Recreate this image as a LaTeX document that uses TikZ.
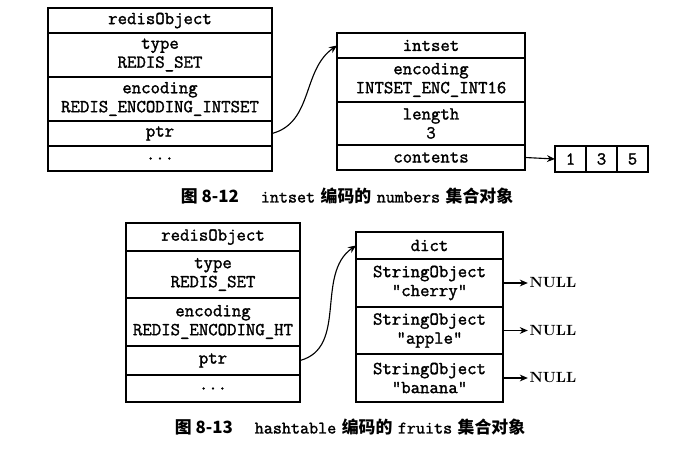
\documentclass[tikz,border=0pt]{standalone}
\usepackage{fontspec}
\setmonofont{Latin Modern Mono}[AutoFakeBold=1.6]
\newfontfamily\cjk{Noto Sans CJK SC}
\usetikzlibrary{arrows.meta,positioning}
\newcommand{\px}{0.025cm}
\newcommand{\captt}[1]{{\fontsize{12.5}{14}\selectfont\ttfamily\bfseries #1}}
\tikzstyle{field}=[draw, line width=0.9pt, outer sep=0pt, inner sep=1pt, align=center, anchor=north west, font=\fontsize{13}{13.5}\selectfont\ttfamily\bfseries]
\tikzstyle{nullnode}=[inner sep=1pt, font=\fontsize{10.5}{12}\selectfont\bfseries]
\tikzstyle{pointer}=[line width=0.8pt, -{Stealth[length=2mm,width=1.7mm]}]
\tikzstyle{caption}=[font=\fontsize{12}{14}\selectfont]

\begin{document}
\begin{tikzpicture}[x=\px, y=-\px]
    \useasboundingbox (0,0) rectangle (684,451);

    % Figure 8-12
    \node[field, minimum width=224*\px, minimum height=25*\px] (a1) at (48,8) {redisObject};
    \node[field, minimum width=224*\px, minimum height=44*\px, below=0pt of a1] (a2) {type\\REDIS\_SET};
    \node[field, minimum width=224*\px, minimum height=44*\px, below=0pt of a2] (a3) {encoding\\REDIS\_ENCODING\_INTSET};
    \node[field, minimum width=224*\px, minimum height=25*\px, below=0pt of a3] (a4) {ptr};
    \node[field, minimum width=224*\px, minimum height=25*\px, below=0pt of a4] (a5) {...};

    \node[field, minimum width=188*\px, minimum height=25*\px] (b1) at (337,33) {intset};
    \node[field, minimum width=188*\px, minimum height=44*\px, below=0pt of b1] (b2) {encoding\\INTSET\_ENC\_INT16};
    \node[field, minimum width=188*\px, minimum height=43*\px, below=0pt of b2] (b3) {length\\3};
    \node[field, minimum width=188*\px, minimum height=25*\px, below=0pt of b3] (b4) {contents};

    \node[field, minimum width=31*\px, minimum height=26*\px] (c1) at (555,146) {1};
    \node[field, minimum width=31*\px, minimum height=26*\px, right=0pt of c1] (c2) {3};
    \node[field, minimum width=31*\px, minimum height=26*\px, right=0pt of c2] (c3) {5};

    \node[caption] (cap1) at (347,196) {{\cjk\bfseries 图 8-12}\hspace{1.3em}\captt{intset} {\cjk\bfseries 编码的} \captt{numbers} {\cjk\bfseries 集合对象}};

    % Figure 8-13
    \node[field, minimum width=174*\px, minimum height=28*\px] (d1) at (126,223) {redisObject};
    \node[field, minimum width=174*\px, minimum height=47*\px, below=0pt of d1] (d2) {type\\REDIS\_SET};
    \node[field, minimum width=174*\px, minimum height=48*\px, below=0pt of d2] (d3) {encoding\\REDIS\_ENCODING\_HT};
    \node[field, minimum width=174*\px, minimum height=29*\px, below=0pt of d3] (d4) {ptr};
    \node[field, minimum width=174*\px, minimum height=27*\px, below=0pt of d4] (d5) {...};

    \node[field, minimum width=147*\px, minimum height=27*\px] (k1) at (356,232) {dict};
    \node[field, minimum width=147*\px, minimum height=48*\px, below=0pt of k1] (k2) {StringObject\\"cherry"};
    \node[field, minimum width=147*\px, minimum height=47*\px, below=0pt of k2] (k3) {StringObject\\"apple"};
    \node[field, minimum width=147*\px, minimum height=48*\px, below=0pt of k3] (k4) {StringObject\\"banana"};

    \node[nullnode, right=0.62cm of k2] (n1) {NULL};
    \node[nullnode, right=0.62cm of k3] (n2) {NULL};
    \node[nullnode, right=0.62cm of k4] (n3) {NULL};

    \node[caption] (cap2) at (350,427) {{\cjk\bfseries 图 8-13}\hspace{1.3em}\captt{hashtable} {\cjk\bfseries 编码的} \captt{fruits} {\cjk\bfseries 集合对象}};

    % Pointers
    \draw[pointer] (a4.east) to[out=15,in=215] (b1.west);
    \draw[pointer] (b4.east) -- (c1.west);
    \draw[pointer] (d4.east) to[out=15,in=215] (k1.west);
    \draw[pointer] (k2.east) -- (n1.west);
    \draw[pointer] (k3.east) -- (n2.west);
    \draw[pointer] (k4.east) -- (n3.west);
\end{tikzpicture}
\end{document}
